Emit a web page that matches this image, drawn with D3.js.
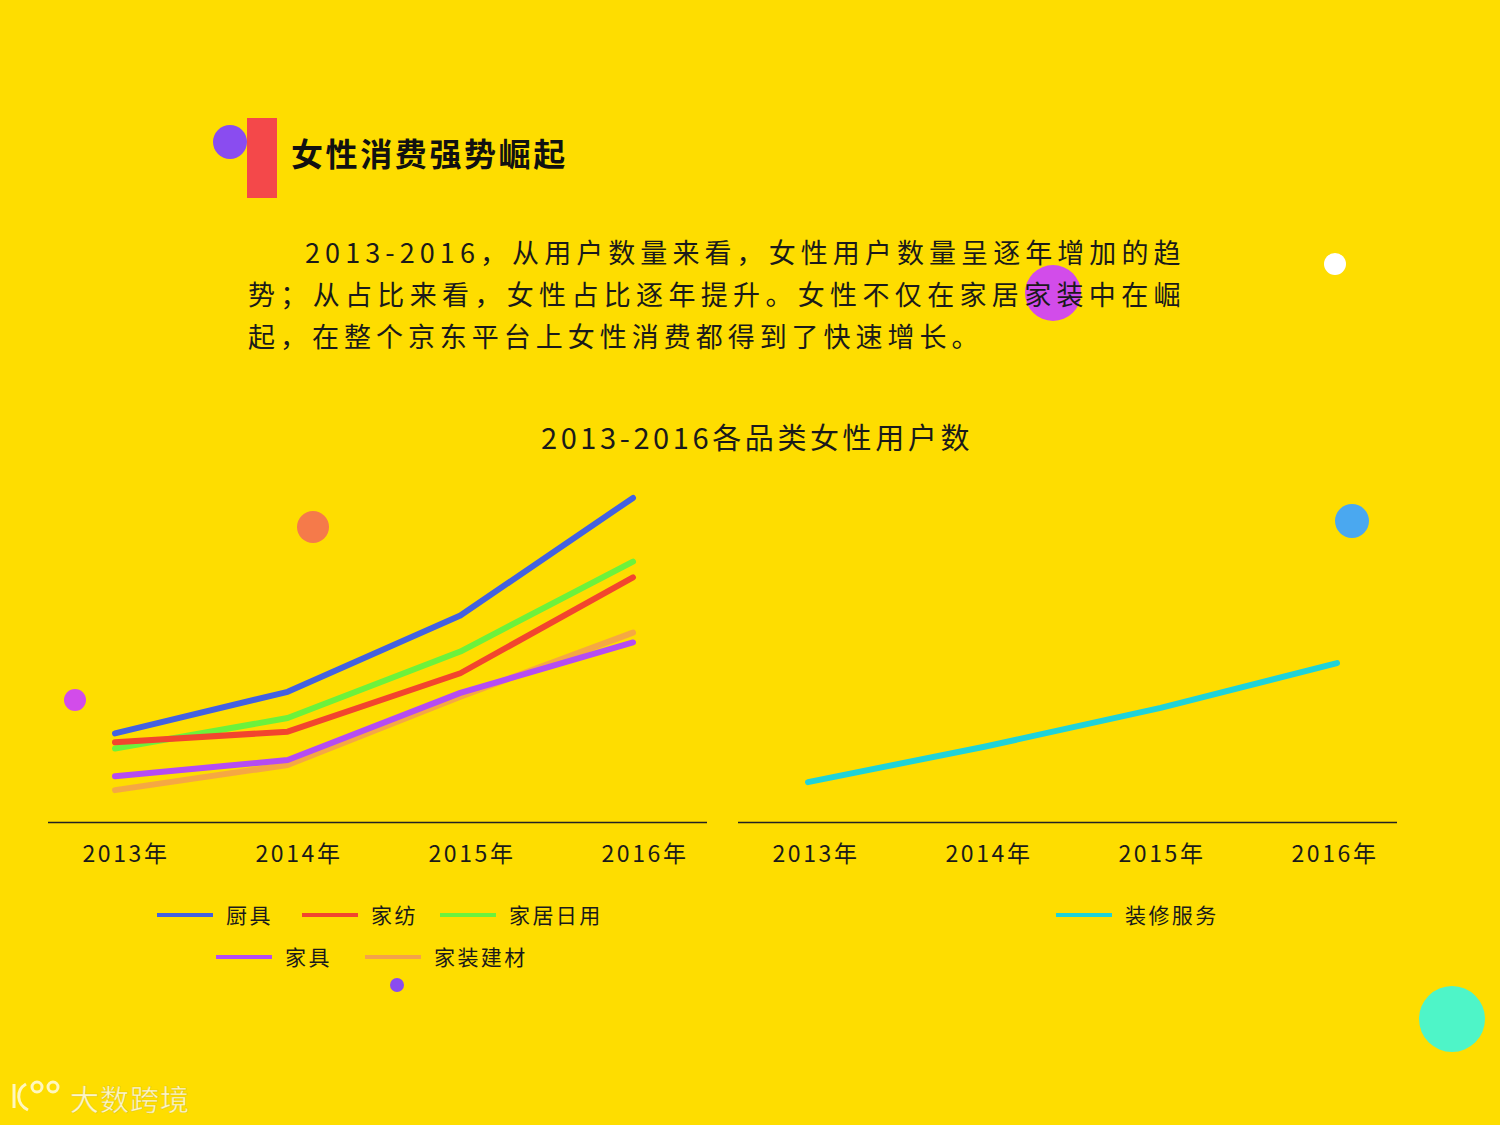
<!DOCTYPE html>
<html lang="zh">
<head>
<meta charset="UTF-8">
<script src="https://d3js.org/d3.v7.min.js"></script>
<title>女性消费强势崛起</title>
<style>
    body { margin: 0; background: #fedd00; }
    svg { display: block; font-family: "Noto Sans CJK SC", "Noto Sans", sans-serif; }
</style>
</head>
<body>
<script>
    // ---------------- data ----------------
    const years = ["2013年", "2014年", "2015年", "2016年"];
    const leftSeries = ["厨具", "家纺", "家居日用", "家具", "家装建材"];
    // relative user counts (no y axis shown)
    const chuju      = [25.3, 37.2, 59.0, 92.6];
    const jiafang    = [22.8, 25.8, 42.5, 69.9];
    const jiajuriyong = [21.0, 29.7, 48.7, 74.4];
    const jiaju      = [13.1, 17.7, 36.9, 51.3];
    const jiazhuang  = [9.1, 16.3, 35.8, 54.1];
    const rightSeries = ["装修服务"];
    const zhuangxiu  = [11.4, 21.5, 32.6, 45.4];

    const paragraph = [
        "2013-2016，从用户数量来看，女性用户数量呈逐年增加的趋",
        "势；从占比来看，女性占比逐年提升。女性不仅在家居家装中在崛",
        "起，在整个京东平台上女性消费都得到了快速增长。"
    ];

    const colors = {
        "厨具": "#4361e0",
        "家纺": "#f2452e",
        "家居日用": "#6cf23c",
        "家具": "#b54cf2",
        "家装建材": "#f4a24a",
        "装修服务": "#1fd3d8"
    };

    // ---------------- page ----------------
    const W = 1500, H = 1125;
    const svg = d3.select("body").append("svg")
        .attr("width", W).attr("height", H);
    svg.append("rect").attr("width", W).attr("height", H).attr("fill", "#fedd00");

    // decorative dot behind the paragraph
    svg.append("circle").attr("cx", 1053).attr("cy", 293).attr("r", 28).attr("fill", "#d24cea");

    // heading block
    svg.append("circle").attr("cx", 230).attr("cy", 142).attr("r", 17).attr("fill", "#8a4cf0");
    svg.append("rect").attr("x", 247).attr("y", 118).attr("width", 30).attr("height", 80).attr("fill", "#f4484a");
    svg.append("text").attr("x", 291).attr("y", 166)
        .attr("font-size", 32).attr("font-weight", "bold").attr("fill", "#111")
        .attr("letter-spacing", 2.6)
        .text("女性消费强势崛起");

    // paragraph
    const paraX = [305, 248, 248];
    const paraLen = [880, 937, 735];
    svg.append("g").selectAll("text")
        .data(paragraph)
        .join("text")
        .attr("x", (d, i) => paraX[i])
        .attr("y", (d, i) => 263 + i * 42)
        .attr("font-size", 27).attr("fill", "#1a1a1a")
        .attr("letter-spacing", 4.5)
        .attr("textLength", (d, i) => paraLen[i])
        .attr("lengthAdjust", "spacing")
        .text(d => d);

    // chart title
    svg.append("text").attr("x", 757).attr("y", 449)
        .attr("text-anchor", "middle").attr("font-size", 29).attr("fill", "#1a1a1a")
        .attr("letter-spacing", 3.6)
        .text("2013-2016各品类女性用户数");

    // ---------------- scales ----------------
    const y = d3.scaleLinear().domain([0, 100]).range([822, 472]);
    const xLeft = d3.scalePoint().domain(years).range([115, 633]);
    const xRight = d3.scalePoint().domain(years).range([808, 1337]);
    const labLeft = d3.scalePoint().domain(years).range([126, 645]);
    const labRight = d3.scalePoint().domain(years).range([816, 1335]);

    const leftData = [
        { name: "家装建材", values: jiazhuang },
        { name: "家具", values: jiaju },
        { name: "家居日用", values: jiajuriyong },
        { name: "家纺", values: jiafang },
        { name: "厨具", values: chuju }
    ];
    const rightData = [{ name: "装修服务", values: zhuangxiu }];

    function drawPanel(data, x, lab, axisX0, axisX1) {
        const line = d3.line()
            .x((d, i) => x(years[i]))
            .y(d => y(d));
        const g = svg.append("g");
        g.selectAll("path.series")
            .data(data)
            .join("path")
            .attr("class", "series")
            .attr("d", d => line(d.values))
            .attr("fill", "none")
            .attr("stroke", d => colors[d.name])
            .attr("stroke-width", 6)
            .attr("stroke-linecap", "round")
            .attr("stroke-linejoin", "round")
            .attr("opacity", d => d.name === "家装建材" ? 0.9 : 1);

        // baseline axis
        g.append("line")
            .attr("x1", axisX0).attr("x2", axisX1)
            .attr("y1", 822.5).attr("y2", 822.5)
            .attr("stroke", "#222").attr("stroke-width", 1.3);

        g.selectAll("text.tick")
            .data(years)
            .join("text")
            .attr("class", "tick")
            .attr("x", d => lab(d))
            .attr("y", 862)
            .attr("text-anchor", "middle")
            .attr("font-size", 23).attr("fill", "#1a1a1a")
            .attr("letter-spacing", 2.6)
            .text(d => d);
    }

    drawPanel(leftData, xLeft, labLeft, 48, 707);
    drawPanel(rightData, xRight, labRight, 738, 1397);

    // ---------------- legends ----------------
    const legendPos = {
        "厨具": [157, 915], "家纺": [302, 915], "家居日用": [440, 915],
        "家具": [216, 957], "家装建材": [365, 957],
        "装修服务": [1056, 915]
    };
    const legendItems = leftSeries.concat(rightSeries);
    const lg = svg.append("g").selectAll("g")
        .data(legendItems)
        .join("g")
        .attr("transform", d => `translate(${legendPos[d][0]},${legendPos[d][1]})`);
    lg.append("line")
        .attr("x1", 0).attr("x2", 56).attr("y1", 0).attr("y2", 0)
        .attr("stroke", d => colors[d]).attr("stroke-width", 4);
    lg.append("text")
        .attr("x", 69)
        .attr("y", 8)
        .attr("font-size", 21).attr("fill", "#1a1a1a")
        .attr("letter-spacing", 2.4)
        .text(d => d);

    // ---------------- decorations ----------------
    const dots = [
        [313, 527, 16, "#f57a4a"],
        [75, 700, 11, "#d24cea"],
        [1335, 264, 11, "#ffffff"],
        [1352, 521, 17, "#4aa8f0"],
        [397, 985, 7, "#8a4cf0"],
        [1452, 1019, 33, "#4ef5c8"]
    ];
    svg.append("g").selectAll("circle")
        .data(dots)
        .join("circle")
        .attr("cx", d => d[0]).attr("cy", d => d[1]).attr("r", d => d[2])
        .attr("fill", d => d[3]);

    // watermark
    const wm = svg.append("g").attr("fill", "none").attr("stroke", "rgba(255,255,255,0.75)").attr("stroke-width", 3);
    wm.append("path").attr("d", "M14,1084 L14,1108 M26,1084 C16,1090 16,1104 28,1110");
    wm.append("circle").attr("cx", 37).attr("cy", 1087).attr("r", 5);
    wm.append("circle").attr("cx", 53).attr("cy", 1087).attr("r", 5);
    svg.append("text").attr("x", 70).attr("y", 1111)
        .attr("font-size", 29).attr("fill", "rgba(255,255,255,0.8)")
        .attr("stroke", "rgba(200,170,0,0.5)").attr("stroke-width", 0.6)
        .attr("letter-spacing", 1)
        .text("大数跨境");
</script>
</body>
</html>
